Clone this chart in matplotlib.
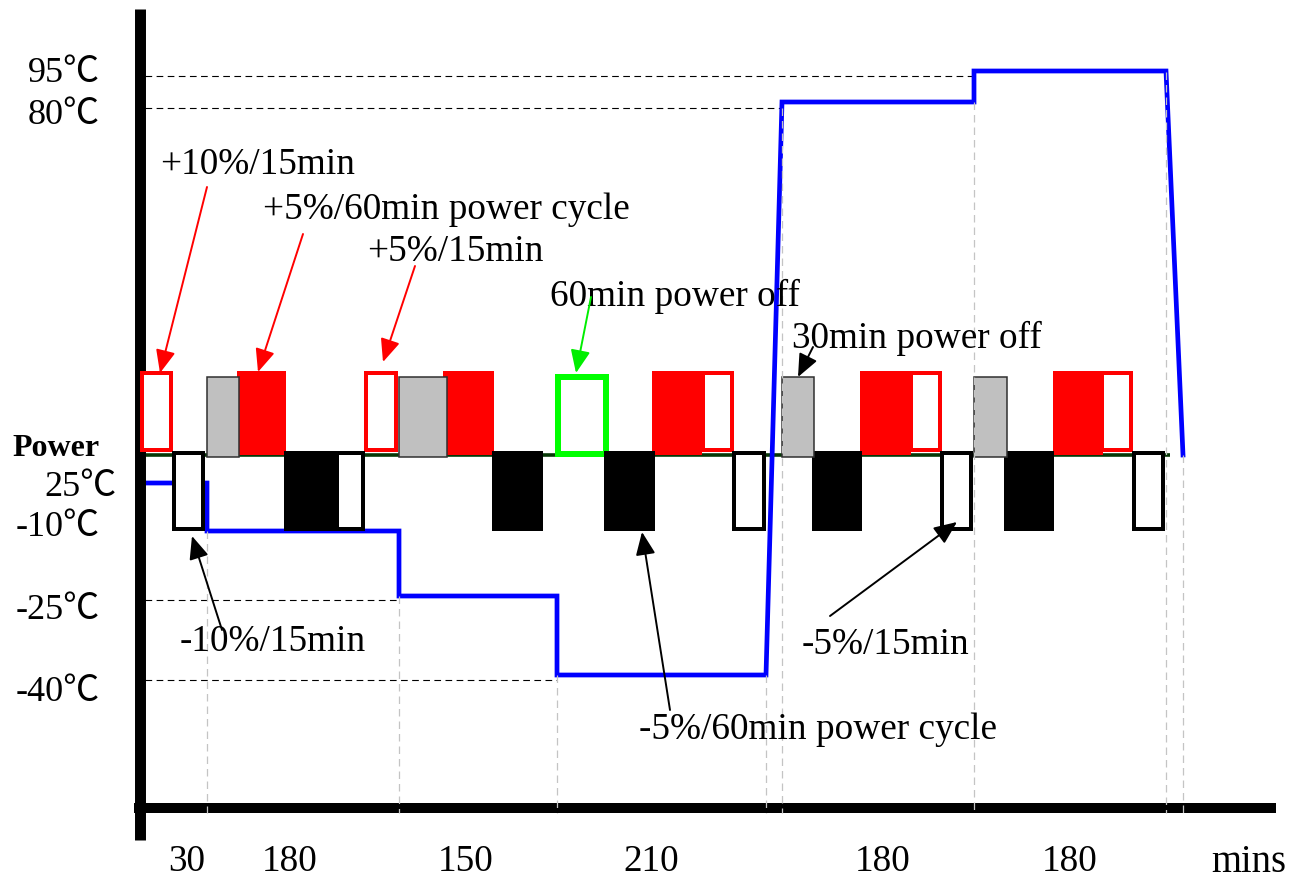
import matplotlib
matplotlib.use('Agg')
import matplotlib.pyplot as plt
from matplotlib.patches import Rectangle

plt.rcParams['font.family'] = ['Liberation Serif', 'Noto Sans CJK JP', 'DejaVu Serif']

# ---------------------------------------------------------------------------
# Schematic data (diagram units, x = time along the test, y = level)
# ---------------------------------------------------------------------------
# temperature axis labels and their level on the schematic
temp_labels = ['95℃', '80℃', '25℃', '-10℃', '-25℃', '-40℃']
temp_label_y = [73, 115, 487, 527, 610, 692]
temp_label_x = [100, 100, 117, 100, 100, 100]

# level of the chamber temperature curve
level_y = {'95': 71, '80': 102, '25': 483, '-10': 531, '-25': 596,
           '-40': 675, 'off': 455}

# temperature profile (blue)
profile_x = [145, 207, 207, 399, 399, 557, 557, 766, 782, 974, 974, 1166, 1183]
profile_lv = ['25', '25', '-10', '-10', '-25', '-25', '-40', '-40',
              '80', '80', '95', '95', 'off']

# reference dashed lines for the set points
ref_levels = ['95', '80', '-25', '-40']
ref_y = [76, 108, 600, 680]
ref_end = [974, 782, 399, 557]

# phase boundaries (grey dashed) and where they start
phase_x = [207, 399, 557, 766, 782, 974, 1166, 1183]
phase_top = [531, 596, 675, 675, 108, 102, 72, 455]

# phase durations
dur_labels = ['30', '180', '150', '210', '180', '180']
dur_x = [187, 290, 466, 651, 883, 1070]

# power blocks above the baseline (start, end, kind)
upper_blocks = [
    (140, 173, 'red_open'), (237, 286, 'red'), (207, 239, 'gray'),
    (364, 398, 'red_open'), (443, 494, 'red'), (399, 447, 'gray'),
    (555, 609, 'green_open'), (652, 702, 'red'), (701, 734, 'red_open'),
    (860, 911, 'red'), (909, 942, 'red_open'), (782, 814, 'gray'),
    (1053, 1103, 'red'), (1100, 1133, 'red_open'), (974, 1007, 'gray'),
]
# power blocks below the baseline
lower_blocks = [
    (172, 205, 'black_open'), (284, 337, 'black'), (335, 365, 'black_open'),
    (492, 543, 'black'), (604, 655, 'black'), (732, 766, 'black_open'),
    (812, 862, 'black'), (940, 973, 'black_open'), (1004, 1054, 'black'),
    (1132, 1165, 'black_open'),
]

# annotations: text, text anchor (left, centre y), arrow start, arrow tip, colour
notes = [
    ('+10%/15min', (160, 165), (207, 187), (160, 373), 'red'),
    ('+5%/60min power cycle', (263, 210), (303, 234), (258, 372), 'red'),
    ('+5%/15min', (367, 252), (415, 266), (383, 362), 'red'),
    ('60min power off', (550, 296), (591, 297), (576, 373), '#00ee00'),
    ('30min power off', (792, 338), (813, 347), (798, 377), 'black'),
    ('-10%/15min', (180, 642), (222, 630), (192, 536), 'black'),
    ('-5%/60min power cycle', (639, 730), (670, 710), (642, 532), 'black'),
    ('-5%/15min', (802, 645), (830, 616), (957, 522), 'black'),
]

# ---------------------------------------------------------------------------
W, H = 1301, 883
fig = plt.figure(figsize=(W / 100, H / 100), dpi=100)
ax = fig.add_axes([0, 0, 1, 1])
ax.set_xlim(0, W)
ax.set_ylim(H, 0)
ax.axis('off')

FS = 26.8

# set point reference lines
for lv, y, xe in zip(ref_levels, ref_y, ref_end):
    ax.plot([145, xe], [y, y], color='black', lw=0.8, ls=(0, (6, 4)), zorder=2)

# power baseline
ax.plot([145, 1170], [level_y['off'], level_y['off']], color='#063806',
        lw=2.6, solid_capstyle='butt', zorder=3)

# temperature profile
ax.plot(profile_x, [level_y[l] for l in profile_lv], color='#0000ff', lw=3.4,
        solid_joinstyle='miter', zorder=4)

# phase boundaries
for x, yt in zip(phase_x, phase_top):
    ax.plot([x, x], [yt, 813], color='#c4c4c4', lw=0.9, ls=(0, (6, 4)), zorder=9)

# axes bars
ax.plot([139.5, 139.5], [9, 840], color='black', lw=7.9,
        solid_capstyle='butt', zorder=4.5)
ax.plot([134, 1276], [808, 808], color='black', lw=7.2,
        solid_capstyle='butt', zorder=4.5)

# power blocks
up_y = (371, 452)
gray_y = (377, 457)
green_y = (374, 457)
low_y = (451, 531)


def draw_block(x0, x1, kind, ylim):
    y0, y1 = ylim
    if kind == 'red':
        ax.add_patch(Rectangle((x0, y0), x1 - x0, y1 + 3 - y0, facecolor='red',
                               edgecolor='none', zorder=5))
    elif kind == 'red_open':
        t = 4.0
        ax.add_patch(Rectangle((x0 + t / 2, y0 + t / 2), x1 - x0 - t, y1 - y0 - t,
                               facecolor='white', edgecolor='red',
                               lw=t * 0.72, zorder=6))
    elif kind == 'gray':
        ax.add_patch(Rectangle((x0, gray_y[0]), x1 - x0, gray_y[1] - gray_y[0],
                               facecolor='#c0c0c0', edgecolor='#303030',
                               lw=1.1, zorder=7))
    elif kind == 'green_open':
        t = 6.0
        ax.add_patch(Rectangle((x0 + t / 2, green_y[0] + t / 2), x1 - x0 - t,
                               green_y[1] - green_y[0] - t, facecolor='white',
                               edgecolor='#00ff00', lw=t * 0.72, zorder=6))
    elif kind == 'black':
        ax.add_patch(Rectangle((x0, y0), x1 - x0, y1 - y0, facecolor='black',
                               edgecolor='none', zorder=6))
    elif kind == 'black_open':
        t = 4.0
        ax.add_patch(Rectangle((x0 + t / 2, y0 + t / 2), x1 - x0 - t, y1 - y0 - t,
                               facecolor='white', edgecolor='black',
                               lw=t * 0.72, zorder=7))


for x0, x1, kind in upper_blocks:
    draw_block(x0, x1, kind, up_y)
for x0, x1, kind in lower_blocks:
    draw_block(x0, x1, kind, low_y)

# temperature labels
for lab, x, y in zip(temp_labels, temp_label_x, temp_label_y):
    ax.text(x, y, lab, fontsize=26, ha='right', va='center')

ax.text(12, 448, 'Power', fontsize=23, fontweight='bold', ha='left', va='center')

# durations
for lab, x in zip(dur_labels, dur_x):
    ax.text(x, 862, lab, fontsize=FS, ha='center', va='center')
ax.text(1249, 862, 'mins', fontsize=FS + 1, ha='center', va='center')

# annotations
for txt, (tx, ty), start, tip, col in notes:
    ax.text(tx, ty, txt, fontsize=FS, ha='left', va='center', zorder=10)
    ax.annotate('', xy=tip, xytext=start,
                arrowprops=dict(arrowstyle='-|>,head_length=1.4,head_width=0.6',
                                color=col, lw=1.4, shrinkA=0, shrinkB=0,
                                mutation_scale=10),
                zorder=10)

fig.savefig('out.png', dpi=100)
